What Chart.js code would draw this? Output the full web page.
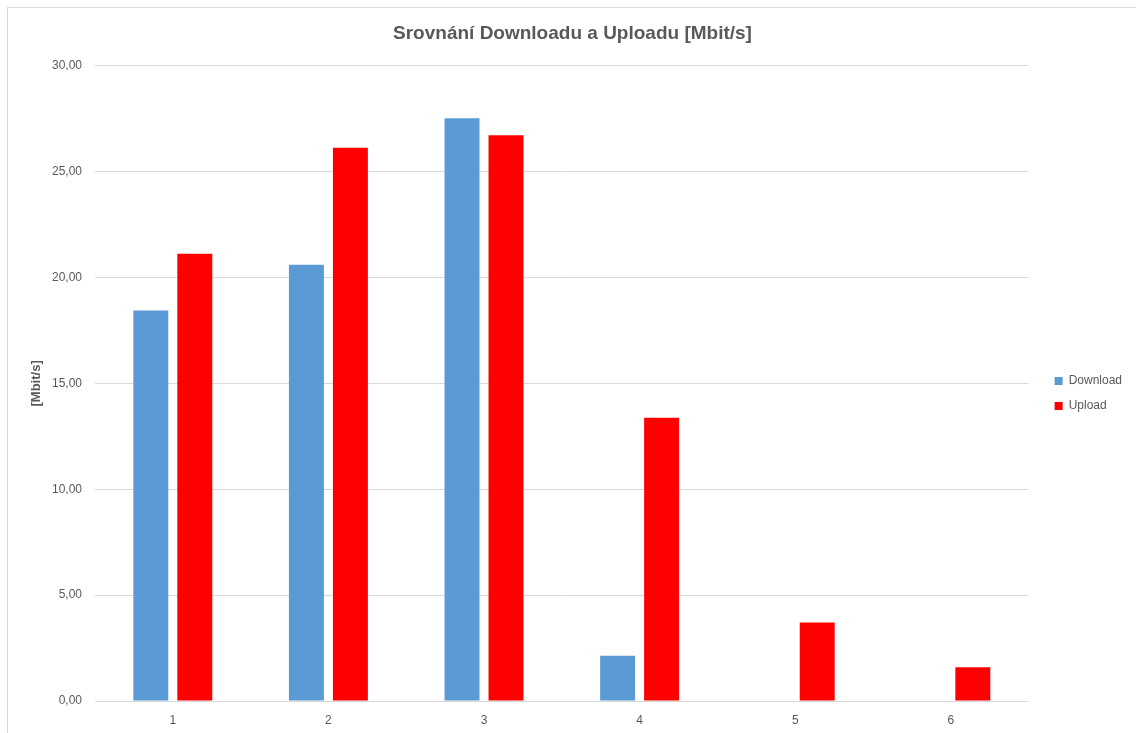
<!DOCTYPE html>
<html lang="cs">
<head>
<meta charset="utf-8">
<title>Srovnání Downloadu a Uploadu</title>
<script src="https://cdn.jsdelivr.net/npm/chart.js@4.4.1/dist/chart.umd.min.js"></script>
<style>
  html, body { margin: 0; padding: 0; background: #ffffff; }
  #wrap { position: relative; width: 1136px; height: 733px; overflow: hidden; }
  #frame { position: absolute; left: 7px; top: 7px; width: 1140px; height: 740px;
           border: 1px solid #d9d9d9; box-sizing: border-box; pointer-events: none; }
  canvas { position: absolute; left: 0; top: 0; }
</style>
</head>
<body>
<div id="wrap">
  <canvas id="chart" width="1136" height="733"></canvas>
  <div id="frame"></div>
</div>
<script>
// Measurement rounds
const categories = ['1', '2', '3', '4', '5', '6'];
// Throughput per round [Mbit/s]
const download = [18.44, 20.60, 27.52, 2.14, 0, 0];
const upload = [21.12, 26.13, 26.72, 13.38, 3.71, 1.59];
// Value axis ticks
const yTicks = [0, 5, 10, 15, 20, 25, 30];

const textColor = '#595959';
const gridColor = '#d9d9d9';
const baseFont = "'Liberation Sans', Arial, sans-serif";

// Nudges the title and the right-hand legend into place
const blockOffsets = {
  id: 'blockOffsets',
  afterLayout(chart) {
    const lg = chart.legend;
    if (lg) {
      lg.left += 13; lg.right += 13;
      lg.top += 27; lg.bottom += 27;
    }
    const tb = chart.titleBlock;
    if (tb) { tb.left += 9; tb.right += 9; }
  }
};

new Chart(document.getElementById('chart'), {
  type: 'bar',
  data: {
    labels: categories,
    datasets: [
      { label: 'Download', data: download, backgroundColor: '#5b9bd5', borderWidth: 0 },
      { label: 'Upload', data: upload, backgroundColor: '#ff0000', borderWidth: 0 }
    ]
  },
  options: {
    responsive: false,
    animation: false,
    devicePixelRatio: 1,
    layout: { padding: { left: 8, right: 17, top: 0, bottom: 0 } },
    datasets: { bar: { categoryPercentage: 0.5653, barPercentage: 0.795 } },
    plugins: {
      title: {
        display: true,
        text: 'Srovnání Downloadu a Uploadu [Mbit/s]',
        color: textColor,
        font: { family: baseFont, size: 19, weight: 'bold', lineHeight: 1.2 },
        padding: { top: 22, bottom: 21 }
      },
      legend: {
        position: 'right',
        labels: {
          color: textColor,
          font: { family: baseFont, size: 12 },
          boxWidth: 8,
          boxHeight: 8,
          padding: 13
        }
      },
      tooltip: { enabled: false }
    },
    scales: {
      x: {
        grid: { display: false, drawTicks: false },
        border: { display: true, color: gridColor, width: 1 },
        ticks: { color: textColor, font: { family: baseFont, size: 12 }, padding: 12 },
        afterFit(axis) { axis.height = 32; }
      },
      y: {
        min: yTicks[0],
        max: yTicks[yTicks.length - 1],
        afterBuildTicks(axis) { axis.ticks = yTicks.map(v => ({ value: v })); },
        grid: { color: gridColor, lineWidth: 1, drawTicks: false },
        border: { display: false },
        ticks: {
          color: textColor,
          font: { family: baseFont, size: 12 },
          padding: 13,
          callback: v => v.toFixed(2).replace('.', ',')
        },
        title: {
          display: true,
          text: '[Mbit/s]',
          color: textColor,
          font: { family: baseFont, size: 13, weight: 'bold', lineHeight: 1.2 },
          padding: { top: 21, bottom: 0 }
        },
        afterFit(axis) { axis.width = 87; }
      }
    }
  },
  plugins: [blockOffsets]
});
</script>
</body>
</html>
